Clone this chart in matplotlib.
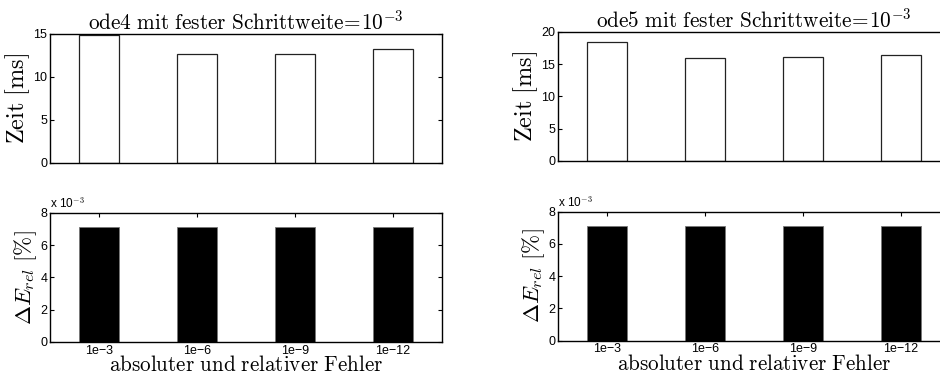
import matplotlib
matplotlib.use("Agg")
import matplotlib.pyplot as plt
from matplotlib.ticker import FuncFormatter

plt.rcParams['mathtext.fontset'] = 'cm'
plt.rcParams['font.family'] = ['Liberation Sans', 'DejaVu Sans']

categories = ["1e\u22123", "1e\u22126", "1e\u22129", "1e\u221212"]
zeit_ode4 = [14.8, 12.6, 12.6, 13.15]
zeit_ode5 = [18.4, 15.95, 16.1, 16.5]
err_ode4 = [7.1e-3, 7.1e-3, 7.1e-3, 7.1e-3]
err_ode5 = [7.1e-3, 7.1e-3, 7.1e-3, 7.1e-3]
titles = [r"$\mathrm{ode4\ mit\ fester\ Schrittweite}\!=\!10^{-3}$",
          r"$\mathrm{ode5\ mit\ fester\ Schrittweite}\!=\!10^{-3}$"]
zeit_ylims = [(0, 15), (0, 20)]
zeit_yticks = [[0, 5, 10, 15], [0, 5, 10, 15, 20]]

W, H = 940, 380
fig = plt.figure(figsize=(W / 100, H / 100), dpi=100)

lefts = [50, 558]
axw = 392
top_rows = [(33.5, 162.7), (32, 160.7)]
bot_rows = [(212.7, 342), (211.7, 340.5)]

x = list(range(1, len(categories) + 1))

def style(ax):
    ax.tick_params(direction='in', length=3, labelsize=9, width=0.8,
                   top=True, right=True, pad=2)
    for s in ax.spines.values():
        s.set_linewidth(1.0)

for i in range(2):
    t0, t1 = top_rows[i]
    ax = fig.add_axes([lefts[i] / W, 1 - t1 / H, axw / W, (t1 - t0) / H])
    zeit = [zeit_ode4, zeit_ode5][i]
    ax.bar(x, zeit, width=0.4, color='white', edgecolor='#222222', linewidth=0.9)
    ax.set_xlim(0.5, 4.5)
    ax.set_ylim(*zeit_ylims[i])
    ax.set_yticks(zeit_yticks[i])
    ax.set_xticks([])
    style(ax)
    ax.set_title(titles[i], fontsize=15.3, pad=2)
    ax.set_ylabel(r"$\mathrm{Zeit\ [ms]}$", fontsize=17.5, labelpad=1)

    b0, b1 = bot_rows[i]
    ax2 = fig.add_axes([lefts[i] / W, 1 - b1 / H, axw / W, (b1 - b0) / H])
    err = [err_ode4, err_ode5][i]
    ax2.bar(x, err, width=0.4, color='black', edgecolor='#777777', linewidth=0.6)
    ax2.set_xlim(0.5, 4.5)
    ax2.set_ylim(0, 8e-3)
    ax2.set_yticks([0, 2e-3, 4e-3, 6e-3, 8e-3])
    ax2.yaxis.set_major_formatter(FuncFormatter(lambda v, p: f"{v * 1e3:.0f}"))
    ax2.set_xticks(x)
    ax2.set_xticklabels(categories)
    style(ax2)
    ax2.tick_params(axis='x', pad=2)
    ax2.text(0.0, 1.02, r"x 10$^{-3}$", transform=ax2.transAxes, fontsize=8.5,
             ha='left', va='bottom', family='Liberation Sans')
    ax2.set_ylabel(r"$\Delta E_{rel}\ \mathrm{[\%]}$", fontsize=16.5, labelpad=1)
    ax2.set_xlabel(r"$\mathrm{absoluter\ und\ relativer\ Fehler}$", fontsize=15.2, labelpad=-1)

fig.savefig("out.png", dpi=100)
